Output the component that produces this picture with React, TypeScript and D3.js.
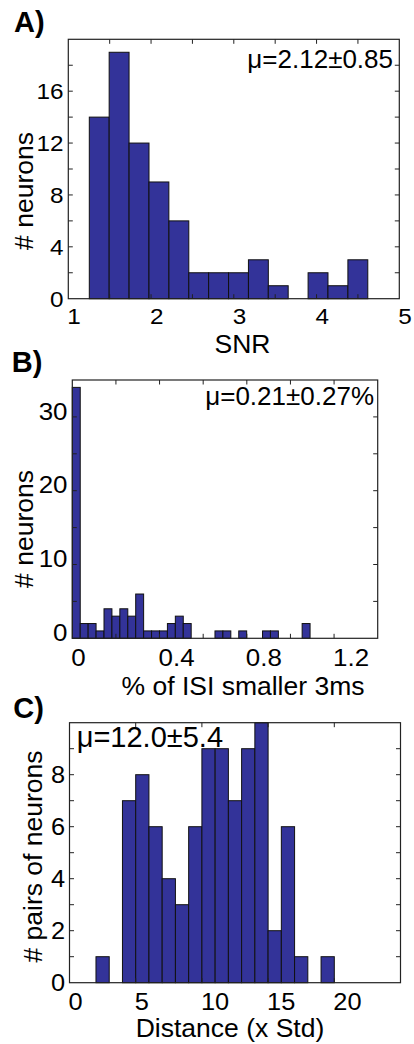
import React from "react";
import * as d3 from "d3";

// ---------- Panel A: SNR ----------
const snrBinCenters = [1.374, 1.614, 1.855, 2.095, 2.336, 2.576, 2.816, 3.057, 3.297, 3.537, 3.778, 4.018, 4.258, 4.499];
const snrCounts = [14, 19, 12, 9, 6, 2, 2, 2, 3, 1, 0, 2, 1, 3];
const snrBinWidth = 0.2404;
const snrXTicks = [1, 1.5, 2, 2.5, 3, 3.5, 4, 4.5, 5];
const snrXTickLabels = [1, 2, 3, 4, 5];
const snrYTicks = [0, 2, 4, 6, 8, 10, 12, 14, 16, 18, 20];
const snrYTickLabels = [0, 4, 8, 12, 16];

// ---------- Panel B: % of ISI < 3ms ----------
const isiBinCenters = [
  0.0182, 0.0545, 0.0908, 0.1272, 0.1635, 0.1998, 0.2362, 0.2725, 0.3088, 0.3452,
  0.3815, 0.4178, 0.4542, 0.4905, 0.5268, 0.5632, 0.5995, 0.6358, 0.6722, 0.7085,
  0.7448, 0.7812, 0.8175, 0.8538, 0.8902, 0.9265, 0.9628, 0.9992, 1.0355, 1.0718,
];
const isiCounts = [34, 2, 2, 1, 4, 3, 4, 3, 6, 1, 1, 1, 2, 3, 2, 0, 0, 0, 1, 1, 0, 1, 0, 0, 1, 1, 0, 0, 0, 2];
const isiBinWidth = 0.03633;
const isiXTicks = [0, 0.2, 0.4, 0.6, 0.8, 1.0, 1.2, 1.4];
const isiXTickLabels = ["0", "0.4", "0.8", "1.2"];
const isiYTicks = [0, 5, 10, 15, 20, 25, 30, 35];
const isiYTickLabels = [0, 10, 20, 30];

// ---------- Panel C: Distance ----------
const distBinCenters = [2.5, 3.5, 4.5, 5.5, 6.5, 7.5, 8.5, 9.5, 10.5, 11.5, 12.5, 13.5, 14.5, 15.5, 16.5, 17.5, 18.5, 19.5];
const distCounts = [1, 0, 7, 8, 6, 4, 3, 6, 9, 9, 7, 9, 10, 2, 6, 1, 0, 1];
const distBinWidth = 1;
const distXTicks = [0, 5, 10, 15, 20, 25];
const distXTickLabels = [0, 5, 10, 15, 20];
const distYTicks = [0, 1, 2, 3, 4, 5, 6, 7, 8, 9, 10];
const distYTickLabels = [0, 2, 4, 6, 8];

const FONT = "'Liberation Sans', Arial, Helvetica, sans-serif";
const BAR_FILL = "#333399";
const TICK_LEN = 4.5;
const TICK_SX = 1.08;

type PanelCfg = {
  letter: string;
  letterX: number;
  letterY: number;
  box: { l: number; r: number; t: number; b: number };
  xDomain: [number, number];
  yDomain: [number, number];
  centers: number[];
  counts: number[];
  binWidth: number;
  xTicks: number[];
  xTickLabels: (number | string)[];
  yTicks: number[];
  yTickLabels: number[];
  tickFont: number;
  xTickBaseline: number;
  yTickRight: number;
  yTickNudge: number;
  annot: string;
  annotX: number;
  annotY: number;
  annotAnchor: "start" | "end";
  annotFont: number;
  xLabel: string;
  xLabelX: number;
  xLabelY: number;
  yLabel: string;
  yLabelX: number;
  yLabelY: number;
};

const panels: PanelCfg[] = [
  {
    letter: "A)", letterX: 14, letterY: 31.5,
    box: { l: 68.3, r: 399.3, t: 39.3, b: 298.7 },
    xDomain: [1, 5], yDomain: [0, 20],
    centers: snrBinCenters, counts: snrCounts, binWidth: snrBinWidth,
    xTicks: snrXTicks, xTickLabels: snrXTickLabels,
    yTicks: snrYTicks, yTickLabels: snrYTickLabels,
    tickFont: 22.5, xTickBaseline: 324, yTickRight: 63.5, yTickNudge: 0,
    annot: "μ=2.12±0.85", annotX: 393, annotY: 67.5, annotAnchor: "end", annotFont: 26,
    xLabel: "SNR", xLabelX: 242.5, xLabelY: 353,
    yLabel: "# neurons", yLabelX: 33, yLabelY: 191,
  },
  {
    letter: "B)", letterX: 11.7, letterY: 371.5,
    box: { l: 72.3, r: 377.7, t: 380, b: 638.3 },
    xDomain: [0, 1.4], yDomain: [0, 35],
    centers: isiBinCenters, counts: isiCounts, binWidth: isiBinWidth,
    xTicks: isiXTicks, xTickLabels: isiXTickLabels,
    yTicks: isiYTicks, yTickLabels: isiYTickLabels,
    tickFont: 24, xTickBaseline: 665.5, yTickRight: 67.5, yTickNudge: -6,
    annot: "μ=0.21±0.27%", annotX: 374, annotY: 405, annotAnchor: "end", annotFont: 26,
    xLabel: "% of ISI smaller 3ms", xLabelX: 243, xLabelY: 695,
    yLabel: "# neurons", yLabelX: 33.3, yLabelY: 529,
  },
  {
    letter: "C)", letterX: 13.3, letterY: 718,
    box: { l: 69.5, r: 400.5, t: 722.7, b: 982.7 },
    xDomain: [0, 25], yDomain: [0, 10],
    centers: distBinCenters, counts: distCounts, binWidth: distBinWidth,
    xTicks: distXTicks, xTickLabels: distXTickLabels,
    yTicks: distYTicks, yTickLabels: distYTickLabels,
    tickFont: 23.5, xTickBaseline: 1010, yTickRight: 65, yTickNudge: 0,
    annot: "μ=12.0±5.4", annotX: 76.7, annotY: 746.7, annotAnchor: "start", annotFont: 29,
    xLabel: "Distance (x Std)", xLabelX: 230, xLabelY: 1036.7,
    yLabel: "# pairs of neurons", yLabelX: 41.7, yLabelY: 856.5,
  },
];

function Panel({ cfg }: { cfg: PanelCfg }) {
  const { box } = cfg;
  const x = d3.scaleLinear().domain(cfg.xDomain).range([box.l, box.r]);
  const y = d3.scaleLinear().domain(cfg.yDomain).range([box.b, box.t]);
  const eps = 1e-9;
  const innerX = cfg.xTicks.filter((t) => t > cfg.xDomain[0] + eps && t < cfg.xDomain[1] - eps);
  const innerY = cfg.yTicks.filter((t) => t > cfg.yDomain[0] + eps && t < cfg.yDomain[1] - eps);
  const labelXs = cfg.xTickLabels.map((v) => ({ v, pos: x(typeof v === "string" ? parseFloat(v) : v) }));

  return (
    <g>
      <text x={cfg.letterX} y={cfg.letterY} fontFamily={FONT} fontWeight="bold" fontSize={29} fill="#000">
        {cfg.letter}
      </text>
      <rect x={box.l} y={box.t} width={box.r - box.l} height={box.b - box.t} fill="#fff" />
      {cfg.centers.map((c, i) => {
        const n = cfg.counts[i];
        if (!n) return null;
        const x0 = x(c - cfg.binWidth / 2);
        const x1 = x(c + cfg.binWidth / 2);
        return (
          <rect
            key={i}
            x={x0}
            y={y(n)}
            width={x1 - x0}
            height={y(0) - y(n)}
            fill={BAR_FILL}
            stroke="#111"
            strokeWidth={1}
          />
        );
      })}
      {innerX.map((t, i) => (
        <g key={"xt" + i} stroke="#222" strokeWidth={1}>
          <line x1={x(t)} x2={x(t)} y1={box.b} y2={box.b - TICK_LEN} />
          <line x1={x(t)} x2={x(t)} y1={box.t} y2={box.t + TICK_LEN} />
        </g>
      ))}
      {innerY.map((t, i) => (
        <g key={"yt" + i} stroke="#222" strokeWidth={1}>
          <line x1={box.l} x2={box.l + TICK_LEN} y1={y(t)} y2={y(t)} />
          <line x1={box.r} x2={box.r - TICK_LEN} y1={y(t)} y2={y(t)} />
        </g>
      ))}
      <rect x={box.l} y={box.t} width={box.r - box.l} height={box.b - box.t} fill="none" stroke="#222" strokeWidth={1.2} />
      {labelXs.map((d, i) => (
        <text
          key={"xl" + i}
          transform={`translate(${d.pos - 1},${cfg.xTickBaseline}) scale(${TICK_SX},1)`}
          textAnchor="start"
          fontFamily={FONT}
          fontSize={cfg.tickFont}
          fill="#000"
        >
          {String(d.v)}
        </text>
      ))}
      {cfg.yTickLabels.map((v, i) => (
        <text
          key={"yl" + i}
          transform={`translate(${cfg.yTickRight},${y(v) + cfg.tickFont * 0.36 + cfg.yTickNudge}) scale(${TICK_SX},1)`}
          textAnchor="end"
          fontFamily={FONT}
          fontSize={cfg.tickFont}
          fill="#000"
        >
          {String(v)}
        </text>
      ))}
      <text
        x={cfg.annotX}
        y={cfg.annotY}
        textAnchor={cfg.annotAnchor}
        fontFamily={FONT}
        fontSize={cfg.annotFont}
        fill="#000"
      >
        {cfg.annot}
      </text>
      <text x={cfg.xLabelX} y={cfg.xLabelY} textAnchor="middle" fontFamily={FONT} fontSize={26.5} fill="#000">
        {cfg.xLabel}
      </text>
      <text
        transform={`translate(${cfg.yLabelX},${cfg.yLabelY}) rotate(-90)`}
        textAnchor="middle"
        fontFamily={FONT}
        fontSize={26.5}
        fill="#000"
      >
        {cfg.yLabel}
      </text>
    </g>
  );
}

export default function App() {
  return (
    <svg
      width={414}
      height={1044}
      viewBox="0 0 414 1044"
      style={{ position: "absolute", left: 0, top: 0, display: "block", background: "#fff" }}
    >
      <rect x={0} y={0} width={414} height={1044} fill="#fff" />
      {panels.map((p, i) => (
        <Panel key={i} cfg={p} />
      ))}
    </svg>
  );
}
